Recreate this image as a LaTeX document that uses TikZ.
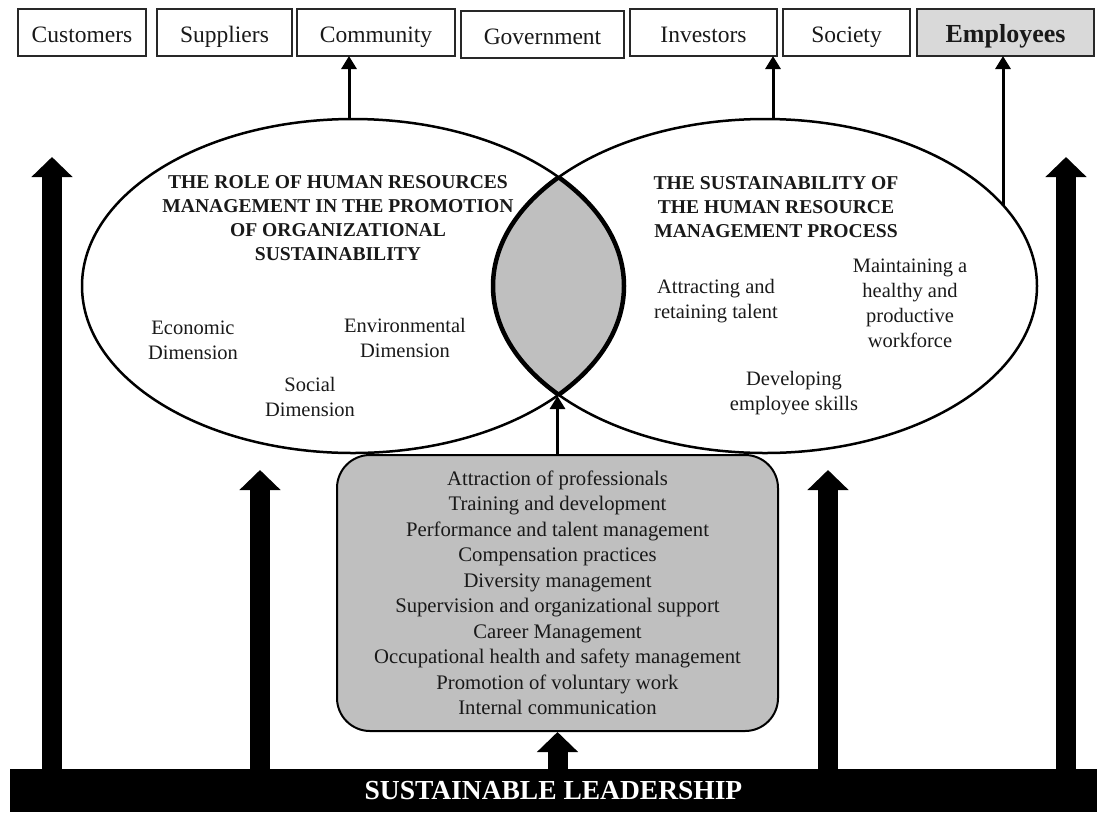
\documentclass[tikz,border=0pt]{standalone}
\usepackage{fontspec}
\setmainfont{Liberation Serif}
\usetikzlibrary{shapes.geometric, arrows.meta, positioning}
\definecolor{boxgray}{RGB}{191, 191, 191}
\definecolor{empgray}{RGB}{217, 217, 217}
\definecolor{linedark}{RGB}{40, 40, 40}
\definecolor{textdark}{RGB}{25, 25, 25}
\tikzset{
    stakeholder/.style={rectangle, draw=linedark, fill=white, text=textdark, line width=2.5pt, minimum height=47pt, inner sep=0pt, outer sep=0pt, text height=19pt, text depth=0pt, align=center, font=\fontsize{23.5}{27}\selectfont},
    bigellipse/.style={ellipse, draw=black, line width=2.5pt, minimum height=334pt, inner sep=0pt},
    ellipsetitle/.style={align=center, text=textdark, font=\bfseries\fontsize{19.6}{24}\selectfont},
    dimension/.style={align=center, text=textdark, font=\fontsize{20.5}{25}\selectfont},
    practices/.style={rectangle, draw=black, fill=boxgray, text=textdark, line width=2pt, rounded corners=33pt, minimum width=441pt, minimum height=276pt, align=center, font=\fontsize{20.7}{25.5}\selectfont},
    leadbar/.style={rectangle, fill=black, text=white, minimum width=1087pt, minimum height=43pt, font=\bfseries\fontsize{27.5}{30}\selectfont},
    thinarrow/.style={-{Triangle[width=15pt, length=13pt]}, black, line width=3pt},
    bigarrow/.style={-{Triangle[width=40pt, length=20pt]}, black, line width=20pt}
}
\begin{document}
\begin{tikzpicture}[x=1pt, y=-1pt]
    \useasboundingbox (0,0) rectangle (1097,812);

    \node (cust) [stakeholder, minimum width=128pt] at (82,32.5) {Customers};
    \node (supp) [stakeholder, minimum width=135pt, right=11pt of cust] {Suppliers};
    \node (comm) [stakeholder, minimum width=158pt, right=5pt of supp] {Community};
    \node (gov) [stakeholder, minimum width=163pt, right=6pt of comm, yshift=-2pt] {Government};
    \node (inv) [stakeholder, minimum width=147pt, right=6pt of gov, yshift=2pt] {Investors};
    \node (soc) [stakeholder, minimum width=127pt, right=6pt of inv] {Society};
    \node (emp) [stakeholder, minimum width=177pt, right=7pt of soc, fill=empgray, font=\bfseries\fontsize{26}{30}\selectfont] {Employees};

    \begin{scope}
        \clip (353,286) ellipse [x radius=271, y radius=167];
        \fill [boxgray] (765,286) ellipse [x radius=272, y radius=167];
    \end{scope}
    \node (orgell) [bigellipse, minimum width=542pt] at (353,286) {};
    \node (procell) [bigellipse, minimum width=544pt] at (765,286) {};
    \begin{scope}
        \clip (353,286) ellipse [x radius=271, y radius=167];
        \draw [line width=4.5pt] (765,286) ellipse [x radius=272, y radius=167];
    \end{scope}
    \begin{scope}
        \clip (765,286) ellipse [x radius=272, y radius=167];
        \draw [line width=4.5pt] (353,286) ellipse [x radius=271, y radius=167];
    \end{scope}

    \node (orgtitle) [ellipsetitle] at (338,218) {THE ROLE OF HUMAN RESOURCES\\MANAGEMENT IN THE PROMOTION\\OF ORGANIZATIONAL\\SUSTAINABILITY};
    \node (econ) [dimension] at (193,340) {Economic\\Dimension};
    \node (env) [dimension] at (405,338) {Environmental\\Dimension};
    \node (social) [dimension] at (310,397) {Social\\Dimension};

    \node (proctitle) [ellipsetitle] at (776,207) {THE SUSTAINABILITY OF\\THE HUMAN RESOURCE\\MANAGEMENT PROCESS};
    \node (attract) [dimension] at (716,301) {Attracting and\\retaining talent};
    \node (maintain) [dimension] at (910,303) {Maintaining a\\healthy and\\productive\\workforce};
    \node (develop) [dimension] at (794,393) {Developing\\employee skills};

    \node (hrpractices) [practices] at (557.5,593) {Attraction of professionals\\Training and development\\Performance and talent management\\Compensation practices\\Diversity management\\Supervision and organizational support\\Career Management\\Occupational health and safety management\\Promotion of voluntary work\\Internal communication};

    \node (lead) [leadbar] at (553.5,790.5) {SUSTAINABLE LEADERSHIP};

    \coordinate (lensbot) at (559,396);
    \coordinate (empfoot) at (1003,205);
    \coordinate (tipfarleft) at (52,157);
    \coordinate (tipleft) at (260,470);
    \coordinate (tipright) at (828,470);
    \coordinate (tipfarright) at (1066,157);

    \draw [thinarrow] ([xshift=-4pt]orgell.north) -- ([xshift=-4pt]orgell.north |- comm.south);
    \draw [thinarrow] ([xshift=8pt]procell.north) -- ([xshift=8pt]procell.north |- inv.south);
    \draw [thinarrow] (empfoot) -- (empfoot |- emp.south);
    \draw [thinarrow] (hrpractices.north) -- (hrpractices.north |- lensbot);

    \draw [bigarrow] (tipfarleft |- lead.north) -- (tipfarleft);
    \draw [bigarrow] (tipleft |- lead.north) -- (tipleft);
    \draw [bigarrow] (tipright |- lead.north) -- (tipright);
    \draw [bigarrow] (tipfarright |- lead.north) -- (tipfarright);
    \draw [bigarrow] (hrpractices.south |- lead.north) -- (hrpractices.south);
\end{tikzpicture}
\end{document}
